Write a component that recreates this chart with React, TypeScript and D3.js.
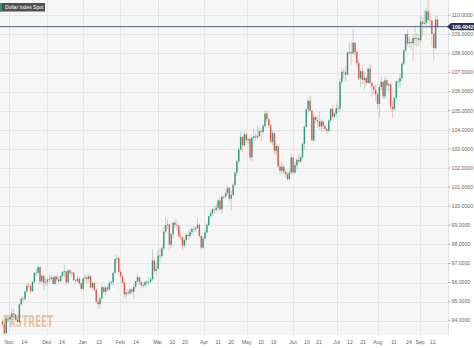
import React from "react";
import * as d3 from "d3";

// ---- Data: daily candles [open, high, low, close] ----
const octCandles = [
  [93.95, 94.05, 93.65, 93.8], [93.8, 93.9, 93.28, 93.34], [93.34, 94.2, 93.3, 94.12],
];
const novCandles = [
  [94.12, 94.25, 93.9, 94.06], [94.06, 94.3, 93.85, 94.19], [94.19, 94.64, 94.1, 94.38], [94.38, 94.6, 94.15, 94.32],
  [94.32, 94.35, 93.95, 94.04], [94.04, 94.1, 93.87, 93.93], [93.93, 94.9, 93.9, 94.85], [94.85, 95.27, 94.8, 95.16],
  [95.16, 95.27, 95.0, 95.13], [95.13, 95.6, 95.05, 95.53], [95.53, 95.98, 95.45, 95.83], [95.83, 96.0, 95.7, 95.82],
  [95.82, 95.9, 95.4, 95.54], [95.54, 96.1, 95.5, 96.03], [96.03, 96.55, 95.95, 96.5], [96.5, 96.7, 96.35, 96.51],
  [96.51, 96.94, 96.45, 96.82], [96.8, 96.85, 95.9, 96.05], [96.05, 96.45, 96.0, 96.35], [96.35, 96.45, 95.55, 95.99],
];
const decCandles = [
  [95.99, 96.2, 95.8, 96.03], [96.03, 96.25, 95.85, 96.15], [96.15, 96.4, 95.95, 96.19], [96.19, 96.45, 96.1, 96.27],
  [96.27, 96.35, 95.9, 95.93], [95.93, 96.35, 95.85, 96.31], [96.31, 96.4, 96.05, 96.16], [96.16, 96.35, 95.95, 96.07],
  [96.07, 96.4, 96.0, 96.35], [96.35, 96.6, 96.25, 96.55], [96.55, 96.9, 96.3, 96.58], [96.58, 96.6, 95.85, 96.01],
  [96.01, 96.7, 95.95, 96.63], [96.63, 96.7, 96.4, 96.51], [96.51, 96.6, 96.3, 96.52], [96.52, 96.55, 96.05, 96.12],
  [96.12, 96.2, 95.95, 96.08], [96.08, 96.35, 96.0, 96.2], [96.2, 96.3, 95.85, 95.96], [95.96, 96.05, 95.55, 95.67],
];
const janCandles = [
  [95.67, 96.25, 95.6, 96.21], [96.21, 96.45, 96.05, 96.27], [96.27, 96.4, 95.95, 96.18], [96.18, 96.45, 96.0, 96.32],
  [96.32, 96.4, 95.7, 95.74], [95.74, 96.05, 95.65, 95.97], [95.97, 96.05, 95.55, 95.63], [95.63, 95.7, 94.95, 94.99],
  [94.99, 95.1, 94.65, 94.87], [94.87, 95.25, 94.63, 95.17], [95.17, 95.85, 95.15, 95.75], [95.75, 95.8, 95.4, 95.51],
  [95.51, 95.85, 95.35, 95.74], [95.74, 95.85, 95.55, 95.64], [95.64, 96.1, 95.55, 95.97], [95.97, 96.1, 95.85, 96.01],
  [96.01, 96.55, 95.85, 96.5], [96.5, 97.3, 96.45, 97.22], [97.22, 97.44, 97.0, 97.27], [97.27, 97.35, 96.5, 96.55],
];
const febCandles = [
  [96.55, 96.7, 96.25, 96.33], [96.33, 96.4, 95.95, 96.0], [96.0, 96.05, 95.2, 95.38], [95.38, 95.6, 95.14, 95.48],
  [95.48, 95.65, 95.3, 95.43], [95.43, 95.75, 95.35, 95.63], [95.63, 95.7, 95.4, 95.52], [95.52, 95.9, 95.15, 95.78],
  [95.78, 96.1, 95.7, 96.07], [96.07, 96.45, 95.95, 96.28], [96.28, 96.3, 95.85, 96.03], [96.03, 96.1, 95.7, 95.84],
  [95.84, 96.0, 95.7, 95.86], [95.86, 96.1, 95.75, 96.03], [96.03, 96.15, 95.8, 96.03], [96.03, 96.3, 95.85, 96.04],
  [96.04, 96.25, 95.95, 96.17], [96.17, 97.74, 96.1, 97.15], [97.15, 97.35, 96.5, 96.61], [96.61, 97.05, 96.4, 96.71],
];
const marCandles = [
  [96.71, 97.7, 96.7, 97.41], [97.41, 97.8, 97.1, 97.39], [97.39, 97.9, 97.3, 97.78], [97.78, 98.9, 97.7, 98.67],
  [98.67, 99.42, 98.6, 99.0], [99.0, 99.3, 98.8, 99.04], [99.04, 99.1, 97.7, 97.98], [97.98, 98.6, 97.8, 98.52],
  [98.52, 99.2, 98.3, 99.13], [99.13, 99.3, 98.85, 99.02], [99.02, 99.3, 98.75, 98.98], [98.98, 99.1, 98.35, 98.41],
  [98.41, 98.6, 98.2, 98.35], [98.35, 98.45, 97.7, 97.93], [97.93, 98.3, 97.8, 98.23], [98.23, 98.6, 98.05, 98.49],
  [98.49, 98.7, 98.25, 98.43], [98.43, 98.8, 98.35, 98.63], [98.63, 98.9, 98.5, 98.81], [98.81, 98.95, 98.6, 98.79],
  [98.79, 98.95, 98.65, 98.86], [98.86, 99.4, 98.8, 99.02], [99.02, 99.1, 98.35, 98.44], [98.44, 98.5, 97.69, 97.83],
  [97.83, 98.4, 97.75, 98.31],
];
const aprCandles = [
  [98.31, 98.78, 98.2, 98.62], [98.62, 99.1, 98.55, 99.01], [99.01, 99.5, 98.95, 99.48], [99.48, 99.75, 99.35, 99.62],
  [99.62, 99.9, 99.45, 99.82], [99.82, 100.0, 99.6, 99.81], [99.81, 100.1, 99.7, 99.92], [99.92, 100.4, 99.75, 100.3],
  [100.3, 100.5, 99.75, 99.83], [99.83, 100.6, 99.6, 100.5], [100.5, 100.55, 100.35, 100.5], [100.5, 100.85, 100.4, 100.69],
  [100.69, 101.03, 100.55, 100.96], [100.96, 101.0, 100.25, 100.39], [100.39, 100.8, 99.8, 100.59], [100.59, 101.2, 100.5, 101.12],
  [101.12, 101.85, 101.0, 101.75], [101.75, 102.4, 101.6, 102.35], [102.35, 103.1, 102.2, 102.96], [102.96, 103.93, 102.9, 103.63],
  [103.63, 103.65, 102.8, 103.19],
];
const mayCandles = [
  [103.19, 103.94, 103.1, 103.76], [103.76, 103.85, 103.3, 103.46], [103.46, 103.65, 103.25, 103.52], [103.52, 103.6, 102.4, 102.56],
  [102.56, 103.7, 102.35, 103.58], [103.58, 104.07, 103.4, 103.66], [103.66, 103.8, 103.45, 103.6], [103.6, 104.2, 103.5, 103.67],
  [103.67, 104.1, 103.6, 103.93], [103.93, 104.05, 103.4, 103.89], [103.89, 104.3, 103.8, 104.2], [104.2, 104.99, 104.05, 104.85],
  [104.85, 105.01, 104.45, 104.56], [104.56, 104.65, 104.1, 104.23], [104.23, 104.3, 103.3, 103.37], [103.37, 103.95, 103.2, 103.82],
  [103.82, 103.9, 102.7, 102.9], [102.9, 103.3, 102.65, 103.15], [103.15, 103.2, 102.0, 102.08], [102.08, 102.2, 101.65, 101.85],
  [101.85, 102.3, 101.7, 102.06], [102.06, 102.2, 101.65, 101.8], [101.8, 101.95, 101.5, 101.67], [101.67, 101.8, 101.3, 101.42],
  [101.42, 101.9, 101.3, 101.76],
];
const junCandles = [
  [101.76, 102.74, 101.7, 102.55], [102.55, 102.65, 101.65, 101.76], [101.76, 102.3, 101.7, 102.14], [102.14, 102.55, 101.95, 102.43],
  [102.43, 102.75, 102.25, 102.34], [102.34, 102.7, 102.25, 102.56], [102.56, 103.35, 102.4, 103.27], [103.27, 104.24, 102.95, 104.15],
  [104.15, 105.1, 104.1, 105.07], [105.07, 105.65, 104.9, 105.52], [105.52, 105.79, 104.9, 105.0], [105.0, 105.1, 103.4, 103.45],
  [103.45, 104.8, 103.4, 104.67], [104.67, 104.75, 104.35, 104.51], [104.51, 104.7, 104.1, 104.45], [104.45, 104.95, 104.0, 104.18],
  [104.18, 104.55, 103.9, 104.43], [104.43, 104.5, 104.0, 104.19], [104.19, 104.3, 103.95, 104.05], [104.05, 104.1, 103.8, 103.94],
  [103.94, 104.55, 103.85, 104.48], [104.48, 105.15, 104.4, 105.1], [105.1, 105.3, 104.55, 104.69], [104.69, 104.95, 104.6, 104.85],
];
const julCandles = [
  [104.85, 105.4, 104.7, 105.13], [105.13, 105.3, 104.9, 105.12], [105.12, 106.7, 104.95, 106.51], [106.51, 107.27, 106.4, 107.04],
  [107.04, 107.2, 106.65, 107.01], [107.01, 107.35, 106.55, 106.89], [106.89, 108.1, 106.85, 108.06], [108.06, 108.57, 107.9, 108.06],
  [108.06, 108.6, 107.4, 108.0], [108.0, 109.29, 107.95, 108.56], [108.56, 108.6, 107.8, 108.07], [108.07, 108.2, 107.3, 107.49],
  [107.49, 107.6, 106.6, 106.68], [106.68, 107.2, 106.25, 107.07], [107.07, 107.4, 106.4, 106.61], [106.61, 107.1, 106.1, 106.73],
  [106.73, 106.8, 106.3, 106.46], [106.46, 107.25, 106.4, 107.21], [107.21, 107.45, 106.4, 106.45], [106.45, 106.5, 105.75, 106.27],
  [106.27, 106.35, 105.9, 106.1], [106.1, 106.4, 105.5, 105.85],
];
const augCandles = [
  [105.85, 105.95, 105.1, 105.35], [105.35, 106.35, 104.64, 106.24], [106.24, 106.8, 106.05, 106.52], [106.52, 106.55, 105.6, 105.75],
  [105.75, 106.8, 105.6, 106.6], [106.6, 106.7, 106.05, 106.32], [106.32, 106.45, 106.0, 106.38], [106.38, 106.5, 104.95, 105.21],
  [105.21, 105.55, 104.64, 105.09], [105.09, 105.7, 105.0, 105.69], [105.69, 106.6, 105.5, 106.53], [106.53, 106.7, 106.2, 106.53],
  [106.53, 106.95, 106.2, 106.7], [106.7, 107.55, 106.55, 107.46], [107.46, 108.2, 107.4, 108.16], [108.16, 109.05, 108.05, 109.01],
  [109.01, 109.27, 108.4, 108.53], [108.53, 108.85, 108.3, 108.6], [108.6, 108.75, 108.2, 108.54], [108.54, 109.0, 107.6, 108.81],
  [108.81, 109.48, 108.4, 108.75], [108.75, 109.1, 108.35, 108.79], [108.79, 109.0, 108.4, 108.7],
];
const sepCandles = [
  [108.7, 109.99, 108.6, 109.67], [109.67, 109.9, 108.9, 109.54], [109.54, 110.27, 109.5, 109.6], [109.6, 110.4, 109.3, 110.21],
  [110.21, 110.79, 109.6, 109.75], [109.75, 110.15, 109.3, 109.72], [109.72, 109.75, 108.35, 109.03], [109.03, 109.1, 107.68, 108.28],
  [108.28, 109.95, 108.2, 109.78], [109.78, 110.0, 109.3, 109.4042],
];

const currentPrice = 109.4042;
const titleText = "Dollar Index Spot";
const watermarkText = "FXSTREET";

const xTickLabels = ["Nov", "14", "Dec", "14", "Jan", "13", "Feb", "14", "Mar", "10", "20", "Apr", "11", "20",
  "May", "10", "19", "Jun", "10", "21", "Jul", "12", "21", "Aug", "11", "24", "Sep", "12"];
const xTickPos = [3.5, 11.6, 23.6, 31.7, 42.8, 51.5, 62.7, 71.2, 82.8, 90.6, 97.3, 107.5, 115.1, 121.9,
  130.2, 137.9, 144.6, 155.1, 162.4, 168.8, 178.2, 185.3, 192.3, 200.1, 208.8, 216.8, 222.7, 229.6];
const monthNames = ["Nov", "Dec", "Jan", "Feb", "Mar", "Apr", "May", "Jun", "Jul", "Aug", "Sep"];
const yTicks = [94, 95, 96, 97, 98, 99, 100, 101, 102, 103, 104, 105, 106, 107, 108, 109, 110];

const candles = [
  ...octCandles, ...novCandles, ...decCandles, ...janCandles, ...febCandles, ...marCandles,
  ...aprCandles, ...mayCandles, ...junCandles, ...julCandles, ...augCandles, ...sepCandles,
];

const W = 474;
const H = 348;
const PLOT_R = 448;
const PLOT_B = 335;
const UP = "#2f9a7a";
const DOWN = "#e0584d";
const FONT = "'Liberation Sans', Arial, sans-serif";
const WM_FONT = "'DejaVu Sans Condensed', 'Liberation Sans Narrow', sans-serif";

export default function App() {
  const N = candles.length;
  const x = d3.scaleLinear().domain([0, N - 1]).range([2.5, 437.5]);
  const y = d3.scaleLinear().domain([93.25, 110.8]).range([PLOT_B, 0]);
  const fmt = d3.format(".4f");
  const cy = y(currentPrice);

  return (
    <svg width={W} height={H} style={{ position: "absolute", left: 0, top: 0, display: "block", background: "#fff" }}>
      <defs>
        <clipPath id="plotClip">
          <rect x={0} y={0} width={PLOT_R} height={PLOT_B} />
        </clipPath>
      </defs>
      <rect x={0} y={0} width={W} height={H} fill="#fff" />
      <rect x={0} y={0} width={PLOT_R} height={PLOT_B} fill="#f6f6f6" />
      {/* horizontal grid */}
      {yTicks.map((t) => (
        <line key={"hg" + t} x1={0} x2={PLOT_R} y1={Math.round(y(t)) + 0.5} y2={Math.round(y(t)) + 0.5}
          stroke="#e6e6e6" strokeWidth={1} />
      ))}
      {/* vertical grid at months */}
      {xTickLabels.map((l, i) => monthNames.includes(l) ? (
        <line key={"vg" + i} x1={Math.round(x(xTickPos[i])) + 0.5} x2={Math.round(x(xTickPos[i])) + 0.5}
          y1={0} y2={PLOT_B} stroke="#e6e6e6" strokeWidth={1} />
      ) : null)}
      <line x1={PLOT_R + 0.5} x2={PLOT_R + 0.5} y1={0} y2={PLOT_B} stroke="#e2e2e2" />

      {/* watermark */}
      <text x={3} y={327} fontFamily={WM_FONT} fontWeight="bold" fontSize={16} textLength={50}
        lengthAdjust="spacingAndGlyphs" fill="#dc9a5e" opacity={0.55}>{watermarkText}</text>

      {/* candles */}
      <g clipPath="url(#plotClip)">
        {candles.map((c, i) => {
          const [o, h, l, cl] = c;
          const up = cl >= o;
          const col = up ? UP : DOWN;
          const xi = x(i);
          const top = y(Math.max(o, cl));
          const hgt = Math.max(0.7, Math.abs(y(o) - y(cl)));
          return (
            <g key={i}>
              <line x1={xi} x2={xi} y1={y(h)} y2={y(l)} stroke={col} strokeOpacity={0.55} strokeWidth={0.6} />
              <rect x={xi - 0.7} y={top} width={1.4} height={hgt} fill={col} />
            </g>
          );
        })}
      </g>

      {/* current price line */}
      <line x1={0} x2={PLOT_R} y1={cy} y2={cy} stroke="#56637a" strokeWidth={1} />

      {/* y axis */}
      {yTicks.map((t) => (
        <g key={"yt" + t}>
          <line x1={PLOT_R} x2={PLOT_R + 3} y1={y(t)} y2={y(t)} stroke="#999" strokeWidth={0.6} />
          <text x={451.5} y={y(t) + 1.8} fontFamily={FONT} fontSize={5.2} fill="#666">{fmt(t)}</text>
        </g>
      ))}

      {/* current price label */}
      <path d={`M${PLOT_R - 1},${cy} L${PLOT_R + 3},${cy - 3.6} L${W},${cy - 3.6} L${W},${cy + 3.6} L${PLOT_R + 3},${cy + 3.6} Z`}
        fill="#26344f" />
      <text x={452} y={cy + 1.9} fontFamily={FONT} fontSize={5.2} fontWeight="bold" fill="#fff">{fmt(currentPrice)}</text>

      {/* x axis labels */}
      {xTickLabels.map((l, i) => (
        <text key={"xl" + i} x={x(xTickPos[i])} y={343.5} textAnchor="middle" fontFamily={FONT} fontSize={5.2} fill="#666">
          {l}
        </text>
      ))}

      {/* title */}
      <rect x={0} y={3} width={45} height={8.5} fill="#4f5151" />
      <rect x={0} y={3} width={2} height={8.5} fill="#2e9474" />
      <text x={5} y={9.2} fontFamily={FONT} fontSize={5} fill="#fff">{titleText}</text>
    </svg>
  );
}
